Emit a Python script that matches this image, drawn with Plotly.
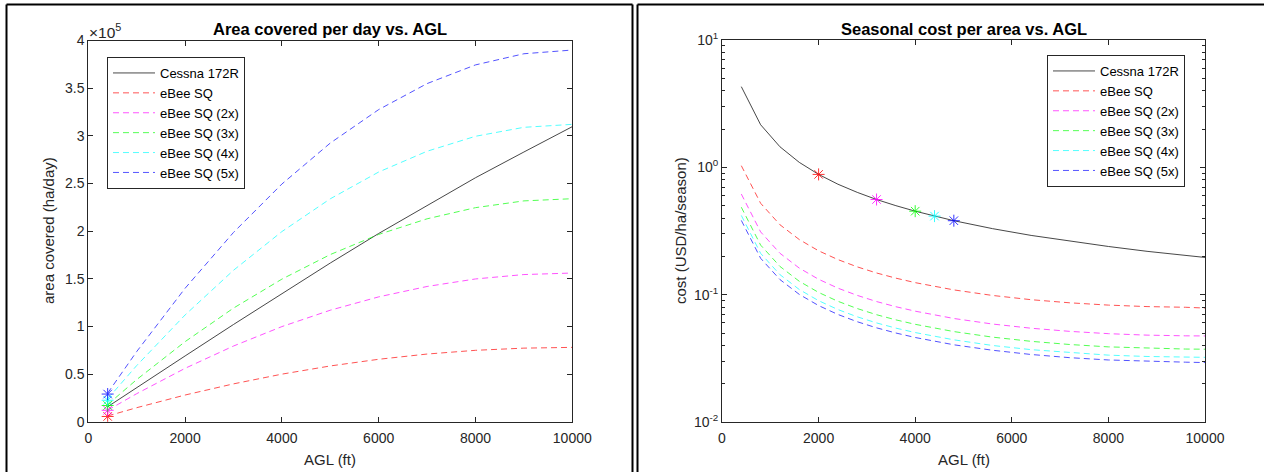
import plotly.graph_objects as go

# ---------------- data ----------------
series_names = ["Cessna 172R", "eBee SQ", "eBee SQ (2x)", "eBee SQ (3x)", "eBee SQ (4x)", "eBee SQ (5x)"]
series_colors = ["#000000", "#FF0000", "#FF00FF", "#00FF00", "#00FFFF", "#0000FF"]

# Left: area covered per day (units of 1e5 ha/day)
agl_area = [400, 1000, 2000, 3000, 4000, 5000, 6000, 7000, 8000, 9000, 10000]
area_cessna = [0.157, 0.36, 0.69, 1.02, 1.345, 1.665, 1.975, 2.27, 2.56, 2.83, 3.096]
area_ebee1 = [0.06, 0.147, 0.28, 0.397, 0.499, 0.585, 0.655, 0.710, 0.749, 0.772, 0.78]
area_ebee2 = [0.12, 0.294, 0.56, 0.794, 0.998, 1.17, 1.31, 1.419, 1.498, 1.544, 1.56]
area_ebee3 = [0.18, 0.442, 0.84, 1.192, 1.496, 1.754, 1.965, 2.129, 2.246, 2.317, 2.34]
area_ebee4 = [0.24, 0.589, 1.12, 1.589, 1.995, 2.339, 2.62, 2.838, 2.995, 3.089, 3.12]
area_ebee5 = [0.30, 0.736, 1.40, 1.986, 2.494, 2.924, 3.275, 3.548, 3.744, 3.861, 3.90]
area_marker_x = [400, 400, 400, 400, 400]
area_marker_y = [0.055, 0.12, 0.17, 0.225, 0.29]

# Right: seasonal cost per area (USD/ha/season)
agl_cost = [400, 800, 1200, 1600, 2000, 2400, 2800, 3200, 3600, 4000, 4800, 5600, 6400, 7200, 8000, 8800, 9600, 10000]
cost_cessna = [4.30, 2.16, 1.45, 1.094, 0.88, 0.737, 0.636, 0.559, 0.50, 0.4525, 0.381, 0.330, 0.292, 0.2625, 0.239, 0.219, 0.203, 0.196]
cost_ebee1 = [1.03, 0.522, 0.354, 0.271, 0.221, 0.1886, 0.1653, 0.148, 0.1348, 0.1243, 0.109, 0.0986, 0.0913, 0.0863, 0.0828, 0.0806, 0.0796, 0.0785]
cost_ebee2 = [0.617, 0.311, 0.2114, 0.1617, 0.1321, 0.1125, 0.0987, 0.0883, 0.0804, 0.0742, 0.0650, 0.0588, 0.0545, 0.0515, 0.0494, 0.0481, 0.0475, 0.0474]
cost_ebee3 = [0.486, 0.245, 0.1666, 0.1274, 0.1041, 0.0887, 0.0778, 0.0696, 0.0634, 0.0585, 0.0513, 0.0464, 0.0430, 0.0406, 0.0389, 0.0379, 0.0374, 0.0373]
cost_ebee4 = [0.419, 0.211, 0.1436, 0.1098, 0.0897, 0.0764, 0.0670, 0.0600, 0.0546, 0.0504, 0.0442, 0.0399, 0.0370, 0.0350, 0.0335, 0.0327, 0.0323, 0.0322]
cost_ebee5 = [0.383, 0.193, 0.1314, 0.1005, 0.0821, 0.0699, 0.0613, 0.0549, 0.0500, 0.0461, 0.0404, 0.0366, 0.0339, 0.0320, 0.0307, 0.0299, 0.0295, 0.0293]
cost_marker_x = [2000, 3200, 4000, 4400, 4800]
cost_marker_y = [0.88, 0.559, 0.4525, 0.414, 0.381]

left_yticks = [0, 0.5, 1, 1.5, 2, 2.5, 3, 3.5, 4]
left_yticktext = ["0", "0.5", "1", "1.5", "2", "2.5", "3", "3.5", "4"]
xticks = [0, 2000, 4000, 6000, 8000, 10000]
xticktext = ["0", "2000", "4000", "6000", "8000", "10000"]
right_yticks = [0.01, 0.1, 1, 10]
right_yticktext = ["10<sup>-2</sup>", "10<sup>-1</sup>", "10<sup>0</sup>", "10<sup>1</sup>"]

# ---------------- figure ----------------
W, H = 1264, 472
def px(x):
    return x / W
def py(y):
    return 1 - y / H

FONT = "Liberation Sans, Arial, Helvetica, sans-serif"
AXC = "#262626"

fig = go.Figure()

area_series = [area_cessna, area_ebee1, area_ebee2, area_ebee3, area_ebee4, area_ebee5]
cost_series = [cost_cessna, cost_ebee1, cost_ebee2, cost_ebee3, cost_ebee4, cost_ebee5]

for i, (name, col, ys) in enumerate(zip(series_names, series_colors, area_series)):
    fig.add_trace(go.Scatter(
        x=agl_area, y=ys, mode="lines", name=name,
        line=dict(color=col, width=0.9, dash="solid" if i == 0 else "6px,4px"),
        opacity=0.8 if i == 0 else 0.75,
        xaxis="x", yaxis="y", legend="legend", showlegend=True))

for j in range(5):
    fig.add_trace(go.Scatter(
        x=[area_marker_x[j]], y=[area_marker_y[j]], mode="markers",
        marker=dict(symbol="asterisk-open", size=10, color=series_colors[j + 1],
                    line=dict(color=series_colors[j + 1], width=1)),
        opacity=0.8, xaxis="x", yaxis="y", showlegend=False))

for i, (name, col, ys) in enumerate(zip(series_names, series_colors, cost_series)):
    fig.add_trace(go.Scatter(
        x=agl_cost, y=ys, mode="lines", name=name,
        line=dict(color=col, width=0.9, dash="solid" if i == 0 else "6px,4px"),
        opacity=0.8 if i == 0 else 0.75,
        xaxis="x2", yaxis="y2", legend="legend2", showlegend=True))

for j in range(5):
    fig.add_trace(go.Scatter(
        x=[cost_marker_x[j]], y=[cost_marker_y[j]], mode="markers",
        marker=dict(symbol="asterisk-open", size=10, color=series_colors[j + 1],
                    line=dict(color=series_colors[j + 1], width=1)),
        opacity=0.8, xaxis="x2", yaxis="y2", showlegend=False))

axis_common = dict(
    showline=True, linecolor=AXC, linewidth=1, mirror="ticks",
    ticks="inside", ticklen=5, tickcolor=AXC, tickwidth=1,
    showgrid=False, zeroline=False, automargin=False,
    tickfont=dict(family=FONT, size=14, color=AXC),
)

fig.update_layout(
    width=W, height=H,
    margin=dict(l=0, r=0, t=0, b=0, autoexpand=False),
    paper_bgcolor="white", plot_bgcolor="white",
    font=dict(family=FONT, color=AXC),
    xaxis=dict(domain=[px(88.3), px(572.3)], range=[0, 10000], tickvals=xticks, ticktext=xticktext,
               anchor="y", ticklabelstandoff=3, **axis_common),
    yaxis=dict(domain=[py(421.7), py(40.5)], range=[0, 4], tickvals=left_yticks,
               ticktext=left_yticktext, anchor="x", **axis_common),
    xaxis2=dict(domain=[px(722), px(1205)], range=[0, 10000], tickvals=xticks, ticktext=xticktext,
                anchor="y2", ticklabelstandoff=3, **axis_common),
    yaxis2=dict(domain=[py(422), py(40)], type="log", range=[-2, 1], tickvals=right_yticks,
                ticktext=right_yticktext, anchor="x2",
                minor=dict(ticks="inside", ticklen=3, tickcolor=AXC, dtick="D1"),
                **axis_common),
    legend=dict(x=px(107), y=py(57), xanchor="left", yanchor="top",
                bgcolor="white", bordercolor=AXC, borderwidth=1,
                font=dict(family=FONT, size=13, color="#000000"),
                tracegroupgap=0, itemwidth=42),
    legend2=dict(x=px(1047), y=py(55), xanchor="left", yanchor="top",
                 bgcolor="white", bordercolor=AXC, borderwidth=1,
                 font=dict(family=FONT, size=13, color="#000000"),
                 tracegroupgap=0, itemwidth=42),
    showlegend=True,
)

annotations = [
    dict(text="<b>Area covered per day vs. AGL</b>", x=px(330.3), y=py(28.5), xref="paper", yref="paper",
         showarrow=False, font=dict(family=FONT, size=16.5, color="#000000"), xanchor="center", yanchor="middle"),
    dict(text="<b>Seasonal cost per area vs. AGL</b>", x=px(963.5), y=py(28.5), xref="paper", yref="paper",
         showarrow=False, font=dict(family=FONT, size=16.5, color="#000000"), xanchor="center", yanchor="middle"),
    dict(text="AGL (ft)", x=px(330.3), y=py(459), xref="paper", yref="paper",
         showarrow=False, font=dict(family=FONT, size=15, color=AXC), xanchor="center", yanchor="middle"),
    dict(text="AGL (ft)", x=px(963.5), y=py(459), xref="paper", yref="paper",
         showarrow=False, font=dict(family=FONT, size=15, color=AXC), xanchor="center", yanchor="middle"),
    dict(text="area covered (ha/day)", x=px(49), y=py(231), xref="paper", yref="paper", textangle=-90,
         showarrow=False, font=dict(family=FONT, size=15, color=AXC), xanchor="center", yanchor="middle"),
    dict(text="cost (USD/ha/season)", x=px(681), y=py(231), xref="paper", yref="paper", textangle=-90,
         showarrow=False, font=dict(family=FONT, size=15, color=AXC), xanchor="center", yanchor="middle"),
    dict(text="×10<sup>5</sup>", x=px(87), y=py(31), xref="paper", yref="paper",
         showarrow=False, font=dict(family=FONT, size=15.5, color=AXC), xanchor="left", yanchor="middle"),
]
fig.update_layout(annotations=annotations)

# panel frames
frame = dict(color="#000000", width=2)
shapes = [
    dict(type="line", xref="paper", yref="paper", x0=px(6.5), x1=px(632.5), y0=py(4.5), y1=py(4.5), line=frame),
    dict(type="line", xref="paper", yref="paper", x0=px(6.5), x1=px(6.5), y0=0, y1=py(4.5), line=frame),
    dict(type="line", xref="paper", yref="paper", x0=px(632.5), x1=px(632.5), y0=0, y1=py(4.5), line=frame),
    dict(type="line", xref="paper", yref="paper", x0=px(637.5), x1=1, y0=py(4.5), y1=py(4.5), line=frame),
    dict(type="line", xref="paper", yref="paper", x0=px(637.5), x1=px(637.5), y0=0, y1=py(4.5), line=frame),
]
fig.update_layout(shapes=shapes)

fig.write_html("out.html", config={"displayModeBar": False},
               post_script="document.body.style.margin='0';document.body.style.overflow='hidden';")
